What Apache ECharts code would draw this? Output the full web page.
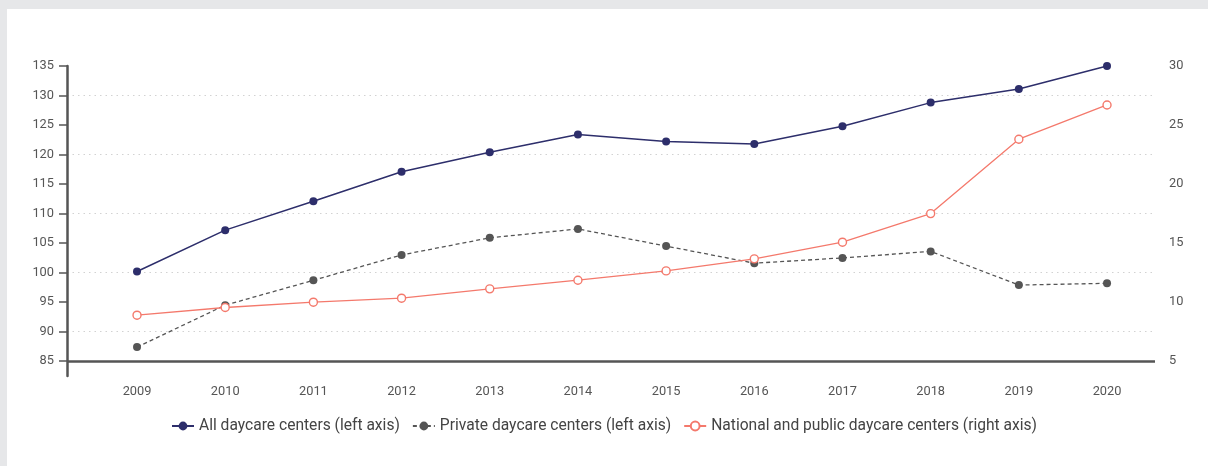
<!DOCTYPE html>
<html>
<head>
<meta charset="utf-8">
<script src="https://cdn.jsdelivr.net/npm/echarts@6/dist/echarts.min.js"></script>
<style>
html,body{margin:0;padding:0;background:#e6e7e9;}
#panel{position:absolute;left:7px;top:9px;width:1201px;height:457px;background:#fff;}
#chart{position:absolute;left:0;top:0;width:1208px;height:466px;}
</style>
</head>
<body>
<div id="panel"></div>
<div id="chart"></div>
<script>
const years = [2009,2010,2011,2012,2013,2014,2015,2016,2017,2018,2019,2020];
const allCenters = [100.2,107.2,112.1,117.1,120.4,123.4,122.2,121.8,124.8,128.8,131.1,135.0];
const privateCenters = [87.4,94.5,98.7,103.0,105.9,107.4,104.5,101.6,102.5,103.6,97.9,98.2];
const publicCenters = [8.9,9.55,10.0,10.34,11.13,11.86,12.65,13.67,15.08,17.5,23.8,26.7];
const leftTicks = [85,90,95,100,105,110,115,120,125,130,135];
const rightTicks = [5,10,15,20,25,30];
const seriesNames = ['All daycare centers (left axis)','Private daycare centers (left axis)','National and public daycare centers (right axis)'];

const pair = arr => years.map((y,i)=>[y,arr[i]]);
const txt = '#555';
const font = 'Roboto';

const chart = echarts.init(document.getElementById('chart'), null, {renderer:'canvas'});
chart.setOption({
  backgroundColor: 'transparent',
  animation: false,
  textStyle: {fontFamily: font},
  grid: {left: 67, right: 53, top: 66, bottom: 90, containLabel: false},
  legend: {
    bottom: 27, left: 'center',
    itemWidth: 22, itemHeight: 11, itemGap: 12,
    textStyle: {fontFamily: font, fontSize: 15.6, color: '#444'},
    data: seriesNames
  },
  xAxis: {
    type: 'value', min: 2008.206, max: 2020.544,
    axisLine: {show: false}, axisTick: {show: false}, splitLine: {show: false},
    axisLabel: {customValues: years, color: txt, fontSize: 12.8, margin: 9, fontFamily: font,
      formatter: v => String(v)}
  },
  yAxis: [
    {
      type: 'value', min: 82.5, max: 135, interval: 2.5,
      axisLine: {show: true, lineStyle: {color: '#555', width: 2.5}},
      axisTick: {show: true, customValues: leftTicks, length: 8, lineStyle: {color: '#555', width: 1.5}},
      axisLabel: {customValues: leftTicks, color: txt, fontSize: 12.8, margin: 13, fontFamily: font,
        formatter: v => (v % 5 === 0 ? String(v) : '')},
      splitLine: {show: true, lineStyle: {type: [1.5,4], width: 1, color: ['rgba(0,0,0,0)', '#d2d2d2']}}
    },
    {
      type: 'value', min: 3.75, max: 30, interval: 1.25, position: 'right',
      axisLine: {show: false}, axisTick: {show: false}, splitLine: {show: false},
      axisLabel: {customValues: rightTicks, color: txt, fontSize: 12.8, margin: 14, fontFamily: font,
        formatter: v => (v % 5 === 0 ? String(v) : '')}
    }
  ],
  series: [
    {
      name: seriesNames[0], type: 'line', yAxisIndex: 0, data: pair(allCenters),
      symbol: 'circle', symbolSize: 8,
      lineStyle: {color: '#2d2e6b', width: 1.5},
      itemStyle: {color: '#2d2e6b'},
      z: 4,
      markLine: {
        silent: true, symbol: 'none', label: {show: false},
        lineStyle: {color: '#555', width: 2.5, type: 'solid'},
        data: [{yAxis: leftTicks[0]}]
      }
    },
    {
      name: seriesNames[1], type: 'line', yAxisIndex: 0, data: pair(privateCenters),
      symbol: 'circle', symbolSize: 8,
      lineStyle: {color: '#555', width: 1.3, type: [4,3]},
      itemStyle: {color: '#555'},
      z: 3
    },
    {
      name: seriesNames[2], type: 'line', yAxisIndex: 1, data: pair(publicCenters),
      symbol: 'circle', symbolSize: 8,
      lineStyle: {color: '#f4796c', width: 1.3},
      itemStyle: {color: '#fff', borderColor: '#f4796c', borderWidth: 1.4},
      z: 5
    }
  ]
});
</script>
</body>
</html>
